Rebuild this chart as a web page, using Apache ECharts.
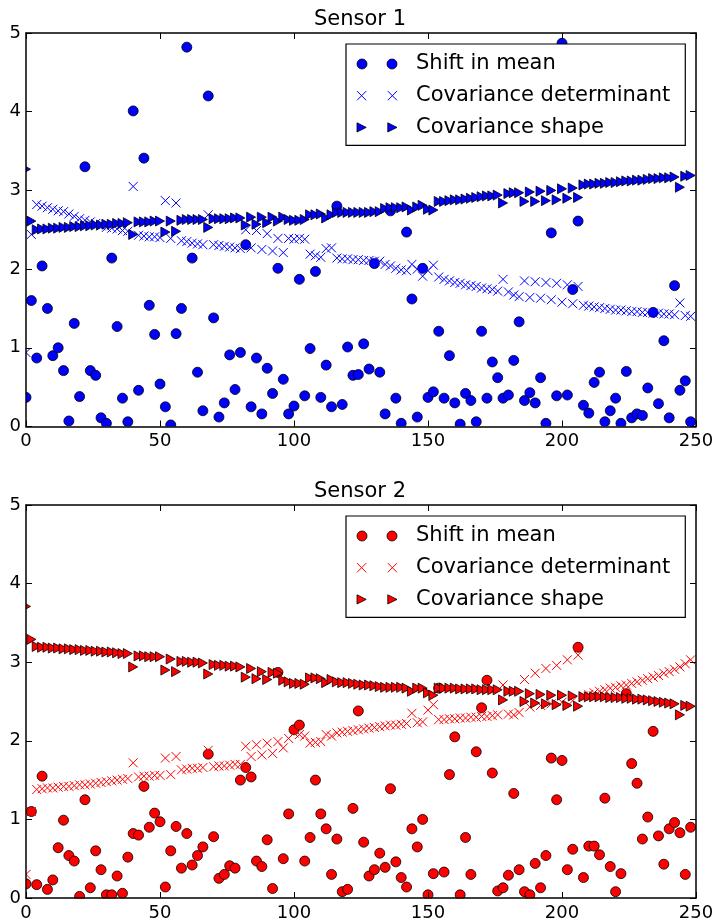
<!DOCTYPE html>
<html><head><meta charset="utf-8">
<script src="https://cdn.jsdelivr.net/npm/echarts@6/dist/echarts.min.js"></script>
<style>html,body{margin:0;padding:0;background:#fff}#c{width:717px;height:922px}</style>
</head><body><div id="c"></div>
<script>
const titles = ['Sensor 1', 'Sensor 2'];
const seriesNames = ['Shift in mean', 'Covariance determinant', 'Covariance shape'];
const xTicks = [0, 50, 100, 150, 200, 250];
const yTicks = [0, 1, 2, 3, 4, 5];
const sampleX = [0,2,4,6,8,10,12,14,16,18,20,22,24,26,28,30,32,34,36,38,40,42,44,46,48,50,52,54,56,58,60,62,64,66,68,70,72,74,76,78,80,82,84,86,88,90,92,94,96,98,100,102,104,106,108,110,112,114,116,118,120,122,124,126,128,130,132,134,136,138,140,142,144,146,148,150,152,154,156,158,160,162,164,166,168,170,172,174,176,178,180,182,184,186,188,190,192,194,196,198,200,202,204,206,208,210,212,214,216,218,220,222,224,226,228,230,232,234,236,238,240,242,244,246,248];

const s1Mean = [0.37,1.60,0.87,2.04,1.50,0.90,1.00,0.71,0.07,1.31,0.38,3.30,0.71,0.65,0.11,0.04,2.14,1.27,0.36,0.06,4.01,0.46,3.41,1.54,1.17,0.54,0.25,0.02,1.18,1.50,4.82,2.14,0.69,0.20,4.20,1.38,0.12,0.30,0.91,0.47,0.94,2.31,0.25,0.87,0.16,0.74,0.42,2.01,0.60,0.16,0.26,1.87,0.39,0.99,1.97,0.37,0.78,0.25,2.80,0.28,1.01,0.65,0.66,1.05,0.73,2.07,0.69,0.16,2.74,0.36,0.04,2.47,1.62,0.12,2.01,0.37,0.44,1.21,0.36,0.90,0.30,0.03,0.42,0.33,0.06,1.21,0.36,0.82,0.62,0.36,0.40,0.84,1.33,0.33,0.43,0.30,0.62,0.04,2.46,0.39,4.87,0.40,1.74,2.61,0.27,0.17,0.56,0.69,0.06,0.20,0.36,0.04,0.70,0.11,0.16,0.14,0.49,1.45,0.29,1.09,0.11,1.79,0.46,0.58,0.06];
const s1Det = [0.94,2.44,2.82,2.80,2.78,2.76,2.74,2.73,2.70,2.67,2.64,2.62,2.60,2.58,2.55,2.53,2.52,2.51,2.49,2.48,3.05,2.43,2.42,2.41,2.41,2.40,2.87,2.39,2.84,2.36,2.35,2.33,2.32,2.31,2.69,2.31,2.30,2.29,2.28,2.27,2.26,2.50,2.27,2.49,2.25,2.45,2.23,2.39,2.21,2.39,2.38,2.39,2.38,2.19,2.17,2.15,2.26,2.27,2.14,2.13,2.13,2.12,2.12,2.11,2.11,2.10,2.10,2.06,2.04,2.01,1.99,1.98,2.06,2.00,1.91,1.98,2.05,1.90,1.87,1.85,1.83,1.82,1.80,1.79,1.78,1.76,1.75,1.74,1.72,1.87,1.71,1.67,1.65,1.85,1.64,1.84,1.63,1.83,1.61,1.82,1.58,1.80,1.56,1.78,1.54,1.53,1.52,1.51,1.50,1.49,1.48,1.48,1.47,1.46,1.46,1.45,1.45,1.44,1.44,1.43,1.43,1.42,1.57,1.41,1.40];
const s1Shape = [3.27,2.61,2.50,2.51,2.51,2.52,2.52,2.53,2.53,2.54,2.54,2.55,2.55,2.56,2.56,2.57,2.57,2.58,2.58,2.59,2.44,2.60,2.60,2.60,2.61,2.61,2.47,2.61,2.48,2.62,2.63,2.63,2.63,2.63,2.53,2.64,2.64,2.64,2.64,2.65,2.65,2.56,2.66,2.57,2.66,2.59,2.66,2.61,2.66,2.63,2.62,2.62,2.63,2.69,2.69,2.70,2.65,2.69,2.72,2.72,2.72,2.72,2.72,2.72,2.72,2.73,2.73,2.77,2.78,2.78,2.78,2.79,2.75,2.79,2.81,2.76,2.75,2.86,2.86,2.87,2.88,2.88,2.89,2.90,2.91,2.92,2.93,2.93,2.94,2.84,2.96,2.97,2.97,2.86,2.98,2.86,2.99,2.87,3.00,2.88,3.02,2.90,3.03,2.91,3.07,3.08,3.08,3.09,3.09,3.10,3.10,3.11,3.12,3.12,3.13,3.13,3.14,3.15,3.15,3.16,3.16,3.17,3.04,3.18,3.19];

const s2Mean = [0.18,1.10,0.17,1.55,0.11,0.23,0.64,0.99,0.54,0.47,0.02,1.25,0.13,0.60,0.36,0.04,0.04,0.28,0.06,0.52,0.82,0.80,1.42,0.90,1.08,0.97,0.14,0.60,0.91,0.38,0.82,0.42,0.54,0.65,1.83,0.78,0.25,0.30,0.41,0.38,1.50,1.66,1.54,0.47,0.40,0.74,0.12,2.87,0.50,1.07,2.14,2.20,0.47,0.77,1.50,1.07,0.88,0.30,0.75,0.08,0.11,1.14,2.38,0.71,0.28,0.36,0.57,0.39,1.39,0.46,0.26,0.14,0.88,0.65,1.00,0.04,0.31,2.67,0.33,1.57,2.05,0.04,0.77,0.30,1.86,2.42,2.77,1.59,0.09,0.13,0.29,1.33,0.36,0.08,0.04,0.44,0.13,0.54,1.78,1.25,1.75,0.36,0.62,3.19,0.26,0.66,0.66,0.55,1.27,0.40,0.08,0.31,2.60,1.71,1.46,0.75,1.03,2.12,0.79,0.43,0.88,0.96,0.83,0.30,0.90];
const s2Det = [0.30,1.10,1.38,1.39,1.40,1.40,1.41,1.42,1.42,1.43,1.44,1.44,1.45,1.46,1.47,1.48,1.49,1.50,1.51,1.52,1.72,1.54,1.55,1.55,1.56,1.56,1.78,1.57,1.80,1.63,1.64,1.65,1.65,1.66,1.88,1.67,1.68,1.68,1.69,1.70,1.70,1.93,1.80,1.95,1.82,1.97,1.84,1.99,1.91,2.03,2.10,2.08,2.06,1.97,1.98,1.99,2.08,2.06,2.10,2.11,2.12,2.13,2.14,2.15,2.16,2.17,2.18,2.19,2.20,2.20,2.21,2.22,2.35,2.23,2.24,2.39,2.46,2.27,2.27,2.28,2.28,2.29,2.29,2.30,2.30,2.31,2.31,2.32,2.33,2.71,2.34,2.33,2.36,2.78,2.43,2.86,2.45,2.92,2.47,2.96,2.49,3.03,2.51,3.09,2.57,2.59,2.61,2.63,2.65,2.67,2.68,2.70,2.71,2.73,2.75,2.77,2.79,2.81,2.83,2.86,2.88,2.91,2.94,2.98,3.03];
const s2Shape = [3.71,3.29,3.20,3.19,3.19,3.18,3.18,3.17,3.17,3.16,3.16,3.15,3.15,3.14,3.14,3.13,3.13,3.12,3.11,3.11,2.94,3.08,3.08,3.07,3.07,3.07,2.90,3.04,2.88,3.01,3.01,3.00,3.00,2.99,2.85,2.97,2.96,2.96,2.95,2.95,2.94,2.81,2.92,2.79,2.88,2.78,2.87,2.86,2.77,2.75,2.73,2.73,2.72,2.80,2.80,2.79,2.74,2.78,2.75,2.74,2.74,2.73,2.72,2.71,2.71,2.70,2.69,2.68,2.68,2.68,2.68,2.67,2.63,2.67,2.67,2.61,2.58,2.67,2.67,2.67,2.67,2.66,2.66,2.66,2.66,2.65,2.65,2.65,2.65,2.52,2.63,2.63,2.63,2.50,2.60,2.48,2.59,2.47,2.58,2.46,2.58,2.45,2.57,2.44,2.56,2.56,2.56,2.56,2.56,2.55,2.55,2.55,2.54,2.54,2.53,2.53,2.52,2.51,2.50,2.49,2.48,2.47,2.33,2.45,2.44];

const sensorData = [[s1Mean, s1Det, s1Shape], [s2Mean, s2Det, s2Shape]];
const colors = ['#0000ff', '#ff0000'];

const FONT = 'DejaVu Sans';
const W = 717, H = 922;
const gridLeft = 26, gridRight = 21;
const gridTops = [33, 505];
const gridH = 393.5;

const circlePath = 'circle';
const crossPath = 'path://M0,0L10,10M10,0L0,10';
const triPath = 'path://M0,0L10,5L0,10Z';
const legendCircle = 'path://M0,5A5,5 0 1,0 10,5A5,5 0 1,0 0,5ZM30,5A5,5 0 1,0 40,5A5,5 0 1,0 30,5Z';
const legendCross = 'path://M0.5,0.5L9.5,9.5M9.5,0.5L0.5,9.5M30.5,0.5L39.5,9.5M39.5,0.5L30.5,9.5';
const legendTri = 'path://M0.5,0.5L9.5,5L0.5,9.5ZM30.5,0.5L39.5,5L30.5,9.5Z';

function pts(arr) { return arr.map((v, i) => [sampleX[i], v]); }

const grid = [], xAxis = [], yAxis = [], series = [], legend = [], title = [];
gridTops.forEach((t, g) => {
  grid.push({ left: gridLeft, right: gridRight, top: t, height: gridH, containLabel: false });
  const axLine = { show: true, onZero: false, lineStyle: { color: '#000', width: 1.5 } };
  const tick = { show: true, inside: true, length: 6, lineStyle: { color: '#000', width: 1 } };
  xAxis.push({ gridIndex: g, type: 'value', min: xTicks[0], max: xTicks[xTicks.length - 1], interval: 50, position: 'bottom', z: 10,
    axisLine: axLine, axisTick: tick, splitLine: { show: false },
    axisLabel: { fontSize: 18, color: '#000', fontFamily: FONT, margin: 6 } });
  xAxis.push({ gridIndex: g, type: 'value', min: 0, max: 250, interval: 50, position: 'top', z: 10,
    axisLine: axLine, axisTick: tick, splitLine: { show: false }, axisLabel: { show: false } });
  yAxis.push({ gridIndex: g, type: 'value', min: yTicks[0], max: yTicks[yTicks.length - 1], interval: 1, position: 'left', z: 10,
    axisLine: axLine, axisTick: tick, splitLine: { show: false },
    axisLabel: { fontSize: 18, color: '#000', fontFamily: FONT, margin: 5 } });
  yAxis.push({ gridIndex: g, type: 'value', min: 0, max: 5, interval: 1, position: 'right', z: 10,
    axisLine: axLine, axisTick: tick, splitLine: { show: false }, axisLabel: { show: false } });

  const c = colors[g];
  const [mean, det, shape] = sensorData[g];
  series.push({ name: seriesNames[0], type: 'scatter', xAxisIndex: 2 * g, yAxisIndex: 2 * g, data: pts(mean),
    symbol: circlePath, symbolSize: 10, itemStyle: { color: c, borderColor: '#000', borderWidth: 0.8, opacity: 1 }, z: 2 });
  series.push({ name: seriesNames[1], type: 'scatter', xAxisIndex: 2 * g, yAxisIndex: 2 * g, data: pts(det),
    symbol: crossPath, symbolSize: 9, itemStyle: { color: 'rgba(0,0,0,0)', borderColor: c, borderWidth: 1, opacity: 1 }, z: 3 });
  series.push({ name: seriesNames[2], type: 'scatter', xAxisIndex: 2 * g, yAxisIndex: 2 * g, data: pts(shape),
    symbol: triPath, symbolSize: [9, 10], itemStyle: { color: c, borderColor: '#000', borderWidth: 0.8, opacity: 1 }, z: 4 });

  legend.push({
    orient: 'vertical', left: 346, top: t + 11, z: 12,
    padding: [8, 15, 6, 10.5], itemGap: 7.7, itemWidth: 40, itemHeight: 10,
    backgroundColor: '#fff', borderColor: '#000', borderWidth: 1.2, borderRadius: 0,
    selectedMode: false, symbolKeepAspect: true,
    textStyle: { fontSize: 21, fontFamily: FONT, color: '#000', lineHeight: 24, padding: [0, 0, 0, 14] },
    data: [
      { name: seriesNames[0], icon: legendCircle, itemStyle: { color: c, borderColor: '#000', borderWidth: 0.8 } },
      { name: seriesNames[1], icon: legendCross, itemStyle: { color: 'rgba(0,0,0,0)', borderColor: c, borderWidth: 1 } },
      { name: seriesNames[2], icon: legendTri, itemStyle: { color: c, borderColor: '#000', borderWidth: 0.8 } }
    ]
  });
  title.push({ text: titles[g], left: 314, top: t - 24, padding: 0, z: 12,
    textStyle: { fontSize: 21, fontWeight: 'normal', fontFamily: FONT, color: '#000' } });
});

// white masks outside the plot areas so markers are clipped at the frame (as in the original)
const maskStyle = { fill: '#fff' };
const masks = [
  { x: 0, y: 0, width: gridLeft, height: H },
  { x: W - gridRight, y: 0, width: gridRight, height: H },
  { x: 0, y: 0, width: W, height: gridTops[0] },
  { x: 0, y: gridTops[0] + gridH, width: W, height: gridTops[1] - gridTops[0] - gridH },
  { x: 0, y: gridTops[1] + gridH, width: W, height: H - gridTops[1] - gridH }
].map(s => ({ type: 'rect', shape: s, style: maskStyle, z: 6, silent: true }));

const chart = echarts.init(document.getElementById('c'), null, { renderer: 'canvas' });
chart.setOption({ animation: false, backgroundColor: '#fff', title, grid, xAxis, yAxis, legend, series,
  graphic: { elements: masks } });
</script>
</body></html>
